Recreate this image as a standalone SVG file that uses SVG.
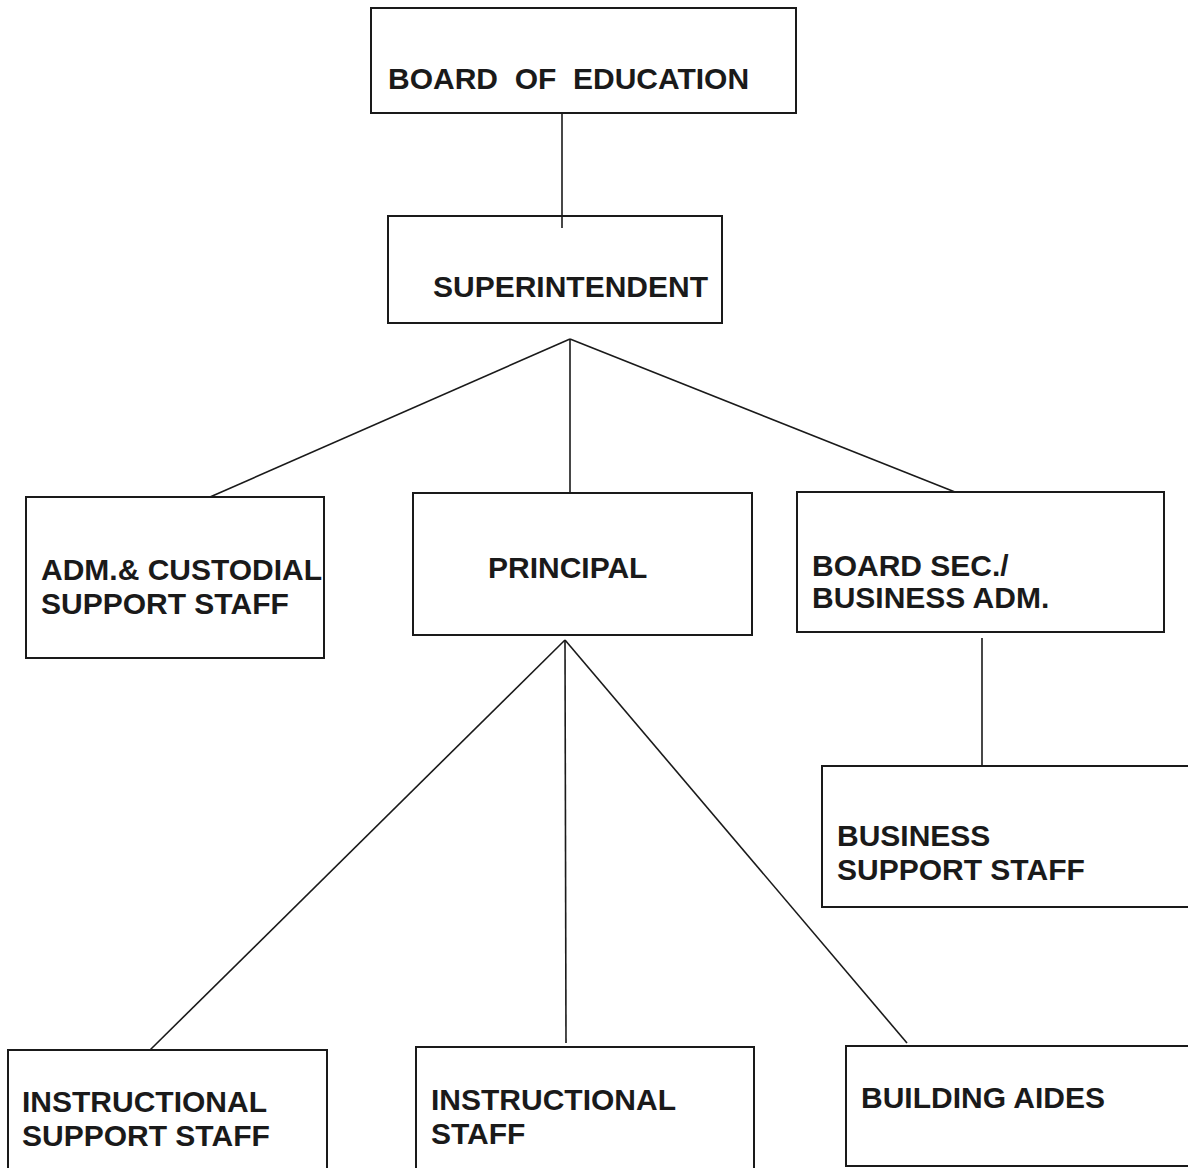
<svg xmlns="http://www.w3.org/2000/svg" width="1188" height="1168" viewBox="0 0 1188 1168">
  <style>
    .box { fill: #ffffff; stroke: #1a1a1a; stroke-width: 2; }
    .lbl { font-family: "Liberation Sans", Arial, sans-serif; font-weight: bold; font-size: 30px; fill: #1a1a1a; white-space: pre; }
    .link { stroke: #1a1a1a; stroke-width: 1.6; fill: none; }
  </style>
  <rect width="1188" height="1168" fill="#ffffff"/>

  <!-- connectors -->
  <g id="connectors">
    <line class="link" x1="562" y1="113" x2="562" y2="228"/>
    <line class="link" x1="570" y1="339" x2="210" y2="497"/>
    <line class="link" x1="570" y1="339" x2="570" y2="493"/>
    <line class="link" x1="570" y1="339" x2="955" y2="492"/>
    <line class="link" x1="982" y1="638" x2="982" y2="772"/>
    <line class="link" x1="565" y1="640" x2="150" y2="1050"/>
    <line class="link" x1="565" y1="640" x2="566" y2="1043"/>
    <line class="link" x1="565" y1="640" x2="907" y2="1043"/>
  </g>

  <g id="board-of-education">
    <rect class="box" x="371" y="8" width="425" height="105"/>
    <text class="lbl" x="388" y="89">BOARD  OF  EDUCATION</text>
  </g>

  <g id="superintendent">
    <rect class="box" x="388" y="216" width="334" height="107"/>
    <line class="link" x1="562" y1="216" x2="562" y2="228"/>
    <text class="lbl" x="433" y="297">SUPERINTENDENT</text>
  </g>

  <g id="adm-custodial">
    <rect class="box" x="26" y="497" width="298" height="161"/>
    <text class="lbl" x="41" y="580">ADM.&amp; CUSTODIAL</text>
    <text class="lbl" x="41" y="614">SUPPORT STAFF</text>
  </g>

  <g id="principal">
    <rect class="box" x="413" y="493" width="339" height="142"/>
    <text class="lbl" x="488" y="578">PRINCIPAL</text>
  </g>

  <g id="board-sec">
    <rect class="box" x="797" y="492" width="367" height="140"/>
    <text class="lbl" x="812" y="576">BOARD SEC./</text>
    <text class="lbl" x="812" y="608">BUSINESS ADM.</text>
  </g>

  <g id="business-support">
    <rect class="box" x="822" y="766" width="380" height="141"/>
    <text class="lbl" x="837" y="846">BUSINESS</text>
    <text class="lbl" x="837" y="880">SUPPORT STAFF</text>
  </g>

  <g id="instructional-support">
    <rect class="box" x="8" y="1050" width="319" height="130"/>
    <text class="lbl" x="22" y="1112">INSTRUCTIONAL</text>
    <text class="lbl" x="22" y="1146">SUPPORT STAFF</text>
  </g>

  <g id="instructional-staff">
    <rect class="box" x="416" y="1047" width="338" height="130"/>
    <text class="lbl" x="431" y="1110">INSTRUCTIONAL</text>
    <text class="lbl" x="431" y="1144">STAFF</text>
  </g>

  <g id="building-aides">
    <rect class="box" x="846" y="1046" width="350" height="120"/>
    <text class="lbl" x="861" y="1108">BUILDING AIDES</text>
  </g>
</svg>
